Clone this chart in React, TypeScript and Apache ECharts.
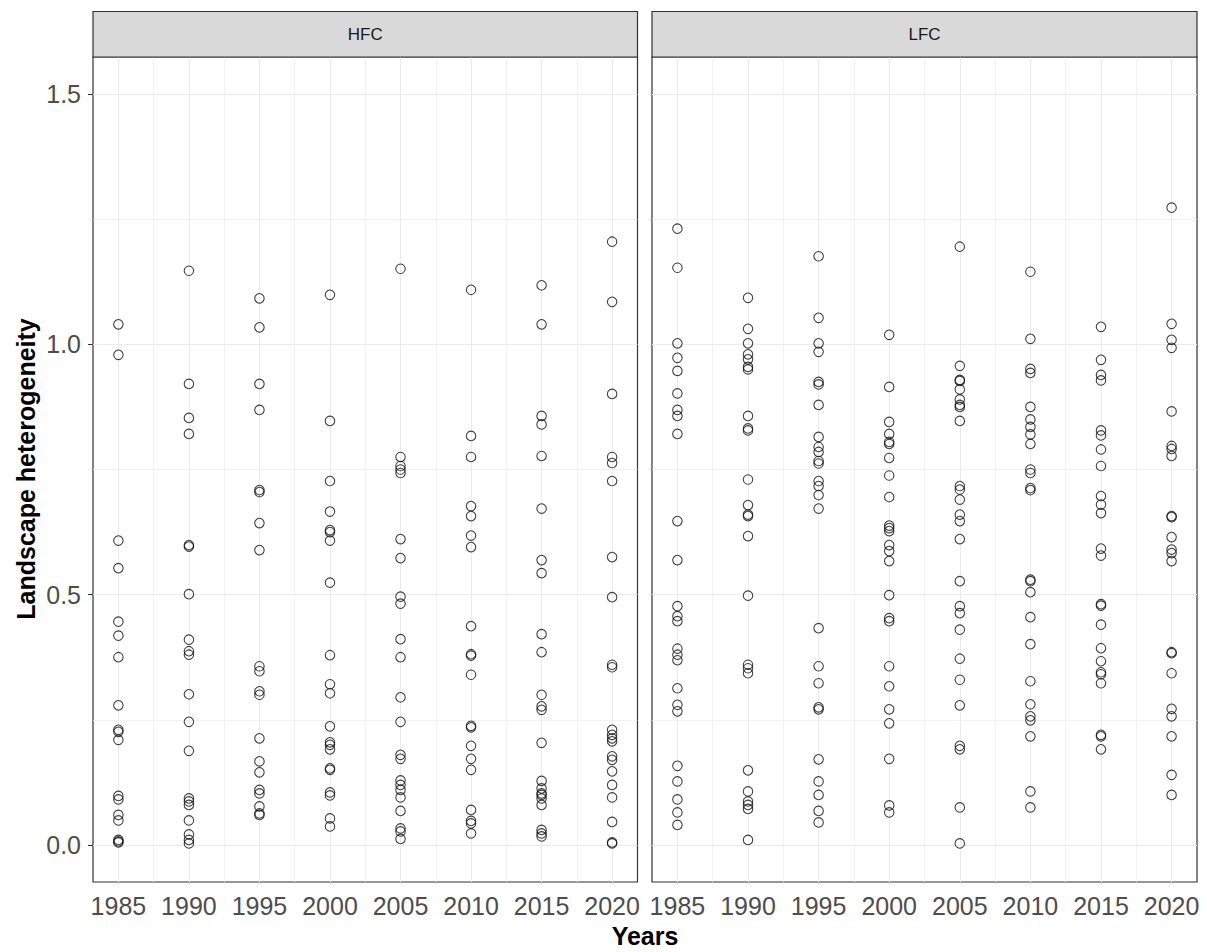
import React, { useEffect, useRef } from "react";
import * as echarts from "echarts";

// ---- data ----
const panels = ["HFC", "LFC"];
const years = [1985, 1990, 1995, 2000, 2005, 2010, 2015, 2020];
const minorYears = [1987.5, 1992.5, 1997.5, 2002.5, 2007.5, 2012.5, 2017.5];
const yTicks = [0, 0.5, 1.0, 1.5];
const yMinor = [0.25, 0.75, 1.25];

const hfc1985 = [1.04, 0.979, 0.608, 0.553, 0.446, 0.418, 0.375, 0.279, 0.23, 0.226, 0.21, 0.098, 0.091, 0.06, 0.049, 0.01, 0.007, 0.005];
const hfc1990 = [1.147, 0.921, 0.853, 0.821, 0.599, 0.596, 0.501, 0.41, 0.387, 0.38, 0.301, 0.246, 0.188, 0.093, 0.087, 0.08, 0.049, 0.021, 0.01, 0.003];
const hfc1995 = [1.092, 1.034, 0.921, 0.869, 0.709, 0.705, 0.643, 0.589, 0.357, 0.347, 0.307, 0.3, 0.213, 0.167, 0.145, 0.11, 0.103, 0.077, 0.063, 0.06];
const hfc2000 = [1.099, 0.847, 0.727, 0.666, 0.629, 0.625, 0.608, 0.524, 0.379, 0.321, 0.303, 0.237, 0.205, 0.2, 0.191, 0.153, 0.15, 0.105, 0.099, 0.053, 0.037];
const hfc2005 = [1.151, 0.775, 0.757, 0.75, 0.743, 0.611, 0.573, 0.496, 0.482, 0.411, 0.375, 0.295, 0.246, 0.18, 0.172, 0.129, 0.12, 0.11, 0.095, 0.068, 0.033, 0.027, 0.012];
const hfc2010 = [1.109, 0.817, 0.775, 0.677, 0.657, 0.618, 0.595, 0.437, 0.381, 0.378, 0.34, 0.238, 0.235, 0.198, 0.172, 0.15, 0.07, 0.048, 0.043, 0.023];
const hfc2015 = [1.118, 1.04, 0.857, 0.84, 0.777, 0.672, 0.569, 0.543, 0.421, 0.385, 0.3, 0.277, 0.27, 0.204, 0.128, 0.113, 0.103, 0.1, 0.093, 0.08, 0.03, 0.023, 0.017];
const hfc2020 = [1.205, 1.085, 0.901, 0.775, 0.763, 0.727, 0.575, 0.495, 0.36, 0.355, 0.23, 0.22, 0.213, 0.207, 0.177, 0.17, 0.147, 0.12, 0.095, 0.046, 0.005, 0.003];

const lfc1985 = [1.231, 1.153, 1.002, 0.973, 0.947, 0.902, 0.869, 0.857, 0.821, 0.647, 0.569, 0.477, 0.457, 0.447, 0.392, 0.38, 0.369, 0.313, 0.28, 0.267, 0.158, 0.127, 0.091, 0.065, 0.04];
const lfc1990 = [1.093, 1.031, 1.002, 0.98, 0.97, 0.955, 0.95, 0.857, 0.832, 0.828, 0.73, 0.679, 0.66, 0.657, 0.617, 0.498, 0.36, 0.353, 0.343, 0.149, 0.107, 0.087, 0.08, 0.072, 0.01];
const lfc1995 = [1.176, 1.053, 1.002, 0.985, 0.925, 0.92, 0.879, 0.815, 0.795, 0.785, 0.767, 0.762, 0.727, 0.717, 0.699, 0.672, 0.433, 0.357, 0.323, 0.275, 0.271, 0.171, 0.127, 0.1, 0.068, 0.045];
const lfc2000 = [1.019, 0.915, 0.845, 0.821, 0.805, 0.801, 0.773, 0.738, 0.695, 0.638, 0.633, 0.627, 0.599, 0.587, 0.567, 0.499, 0.453, 0.447, 0.357, 0.317, 0.271, 0.243, 0.172, 0.079, 0.065];
const lfc2005 = [1.195, 0.957, 0.929, 0.927, 0.91, 0.89, 0.879, 0.875, 0.847, 0.717, 0.71, 0.69, 0.66, 0.647, 0.611, 0.527, 0.477, 0.463, 0.43, 0.372, 0.33, 0.279, 0.198, 0.191, 0.075, 0.003];
const lfc2010 = [1.145, 1.011, 0.951, 0.943, 0.875, 0.85, 0.835, 0.82, 0.801, 0.75, 0.743, 0.713, 0.709, 0.53, 0.527, 0.505, 0.455, 0.401, 0.327, 0.281, 0.257, 0.249, 0.217, 0.107, 0.075];
const lfc2015 = [1.035, 0.969, 0.939, 0.928, 0.828, 0.818, 0.79, 0.757, 0.697, 0.68, 0.663, 0.592, 0.578, 0.481, 0.478, 0.44, 0.393, 0.367, 0.345, 0.341, 0.323, 0.22, 0.217, 0.191];
const lfc2020 = [1.273, 1.041, 1.009, 0.993, 0.866, 0.797, 0.791, 0.777, 0.657, 0.655, 0.615, 0.59, 0.583, 0.567, 0.385, 0.383, 0.343, 0.272, 0.257, 0.217, 0.14, 0.1];

const hfcByYear = [hfc1985, hfc1990, hfc1995, hfc2000, hfc2005, hfc2010, hfc2015, hfc2020];
const lfcByYear = [lfc1985, lfc1990, lfc1995, lfc2000, lfc2005, lfc2010, lfc2015, lfc2020];

const xAxisTitle = "Years";
const yAxisTitle = "Landscape heterogeneity";

// ---- layout ----
const FONT = '"Liberation Sans", Arial, sans-serif';
const gridsPos = [
  { left: 93, top: 57, width: 544.5, height: 825 },
  { left: 652, top: 57, width: 545, height: 825 },
];

function toPoints(byYear: number[][]) {
  const out: number[][] = [];
  byYear.forEach((vals, i) => vals.forEach((v) => out.push([years[i], v])));
  return out;
}

export default function App() {
  const ref = useRef<HTMLDivElement>(null);
  useEffect(() => {
    document.body.style.margin = "0";
    const chart = echarts.init(ref.current!, null, { renderer: "svg" });
    const datasets = [toPoints(hfcByYear), toPoints(lfcByYear)];

    const xAxes = gridsPos.map((_, i) => ({
      type: "value",
      gridIndex: i,
      min: 1983.2,
      max: 2021.8,
      axisLine: { show: false },
      splitLine: { show: false },
      axisTick: { show: true, length: 5, customValues: years, lineStyle: { color: "#333", width: 1 } },
      axisLabel: {
        show: true,
        customValues: years,
        margin: 11,
        color: "#4d4d4d",
        fontSize: 25,
        fontFamily: FONT,
        formatter: (v: number) => String(Math.round(v)),
      },
    }));
    const yAxes = gridsPos.map((_, i) => ({
      type: "value",
      gridIndex: i,
      min: -0.074,
      max: 1.574,
      axisLine: { show: false },
      splitLine: { show: false },
      axisTick: { show: i === 0, length: 5, customValues: yTicks, lineStyle: { color: "#333", width: 1 } },
      axisLabel: {
        show: i === 0,
        customValues: yTicks,
        margin: 12,
        color: "#4d4d4d",
        fontSize: 25,
        fontFamily: FONT,
        formatter: (v: number) => v.toFixed(1),
      },
    }));

    const gridLineSeries = gridsPos.map((_, i) => ({
      type: "scatter",
      xAxisIndex: i,
      yAxisIndex: i,
      data: [],
      silent: true,
      z: 1,
      markLine: {
        silent: true,
        z: 1,
        animation: false,
        symbol: ["none", "none"],
        label: { show: false },
        lineStyle: { color: "#ebebeb", type: "solid", width: 1 },
        emphasis: { disabled: true },
        data: [
          ...years.map((v) => ({ xAxis: v, lineStyle: { color: "#ebebeb", width: 1.1, type: "solid" } })),
          ...minorYears.map((v) => ({ xAxis: v, lineStyle: { color: "#ededed", width: 0.7, type: "solid" } })),
          ...yTicks.map((v) => ({ yAxis: v, lineStyle: { color: "#ebebeb", width: 1.1, type: "solid" } })),
          ...yMinor.map((v) => ({ yAxis: v, lineStyle: { color: "#ededed", width: 0.7, type: "solid" } })),
        ],
      },
    }));

    const pointSeries = gridsPos.map((_, i) => ({
      type: "scatter",
      name: panels[i],
      xAxisIndex: i,
      yAxisIndex: i,
      data: datasets[i],
      symbol: "circle",
      symbolSize: 9.5,
      z: 3,
      silent: true,
      itemStyle: { color: "rgba(0,0,0,0)", borderColor: "#111", borderWidth: 1.1 },
      emphasis: { disabled: true },
    }));

    const graphics: any[] = [];
    gridsPos.forEach((g, i) => {
      graphics.push({
        type: "rect",
        shape: { x: g.left, y: 11.5, width: g.width, height: 45.5 },
        style: { fill: "#d9d9d9", stroke: "#333", lineWidth: 1.2 },
        z: 10,
      });
      graphics.push({
        type: "text",
        x: g.left + g.width / 2,
        y: 34.5,
        style: {
          text: panels[i],
          fill: "#1a1a1a",
          font: `17px ${FONT}`,
          align: "center",
          verticalAlign: "middle",
          textAlign: "center",
          textVerticalAlign: "middle",
        },
        z: 11,
      });
    });
    graphics.push({
      type: "text",
      x: 645,
      y: 936,
      style: {
        text: xAxisTitle,
        fill: "#000",
        font: `bold 25px ${FONT}`,
        align: "center",
        verticalAlign: "middle",
        textAlign: "center",
        textVerticalAlign: "middle",
      },
    });
    graphics.push({
      type: "text",
      x: 26,
      y: 469,
      rotation: Math.PI / 2,
      style: {
        text: yAxisTitle,
        fill: "#000",
        font: `bold 25px ${FONT}`,
        align: "center",
        verticalAlign: "middle",
        textAlign: "center",
        textVerticalAlign: "middle",
      },
    });

    chart.setOption({
      animation: false,
      backgroundColor: "#ffffff",
      grid: gridsPos.map((g) => ({
        ...g,
        show: true,
        backgroundColor: "#ffffff",
        borderColor: "#333333",
        borderWidth: 1.2,
        containLabel: false,
      })),
      xAxis: xAxes,
      yAxis: yAxes,
      series: [...gridLineSeries, ...pointSeries],
      graphic: graphics,
    });
    return () => chart.dispose();
  }, []);
  return (
    <div
      ref={ref}
      style={{ position: "fixed", left: 0, top: 0, width: 1207, height: 952, background: "#fff" }}
    />
  );
}
